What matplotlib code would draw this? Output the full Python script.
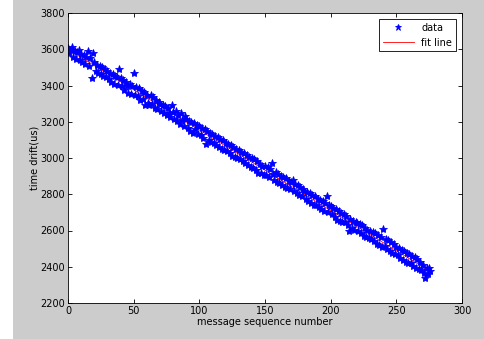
import numpy as np
import matplotlib.pyplot as plt
from matplotlib.patches import Rectangle

# drift values, one per message (x = 0..276)
drift = [
    3605, 3580, 3598, 3612, 3560, 3590, 3548, 3585, 3595, 3540,
    3575, 3530, 3568, 3520, 3555, 3590, 3505, 3550, 3440, 3578,
    3530, 3480, 3515, 3470, 3505, 3462, 3500, 3455, 3490, 3445,
    3480, 3438, 3470, 3420, 3462, 3410, 3455, 3448, 3405, 3490,
    3440, 3395, 3430, 3375, 3418, 3400, 3360, 3410, 3352, 3395,
    3470, 3350, 3390, 3340, 3385, 3318, 3372, 3325, 3365, 3290,
    3350, 3305, 3290, 3345, 3300, 3335, 3278, 3322, 3270, 3310,
    3300, 3262, 3295, 3248, 3285, 3235, 3278, 3250, 3228, 3290,
    3255, 3215, 3262, 3205, 3240, 3190, 3248, 3212, 3178, 3230,
    3215, 3165, 3205, 3150, 3198, 3140, 3192, 3158, 3180, 3135,
    3175, 3125, 3168, 3112, 3160, 3080, 3150, 3098, 3140, 3090,
    3130, 3085, 3122, 3070, 3115, 3062, 3105, 3050, 3098, 3045,
    3085, 3040, 3078, 3025, 3070, 3010, 3062, 3005, 3052, 3000,
    3045, 2995, 3035, 2982, 3028, 2970, 3015, 2960, 3008, 2952,
    3000, 2945, 2992, 2935, 2985, 2915, 2965, 2918, 2958, 2905,
    2955, 2905, 2948, 2895, 2940, 2970, 2910, 2878, 2925, 2870,
    2910, 2862, 2902, 2850, 2895, 2842, 2888, 2835, 2875, 2830,
    2865, 2880, 2818, 2858, 2805, 2850, 2795, 2840, 2788, 2830,
    2820, 2775, 2812, 2762, 2805, 2750, 2798, 2742, 2788, 2738,
    2775, 2732, 2770, 2720, 2765, 2705, 2752, 2790, 2700, 2740,
    2735, 2690, 2725, 2675, 2718, 2660, 2705, 2655, 2695, 2645,
    2690, 2645, 2680, 2630, 2595, 2662, 2612, 2655, 2605, 2645,
    2640, 2598, 2635, 2585, 2628, 2570, 2615, 2562, 2605, 2558,
    2600, 2555, 2592, 2540, 2585, 2528, 2575, 2520, 2565, 2510,
    2610, 2515, 2555, 2500, 2548, 2485, 2535, 2478, 2525, 2470,
    2510, 2465, 2502, 2450, 2495, 2440, 2485, 2428, 2475, 2420,
    2470, 2418, 2462, 2405, 2455, 2395, 2445, 2388, 2425, 2380,
    2410, 2365, 2340, 2395, 2360, 2392, 2378,
]
seq = np.arange(len(drift))

xticks = [0, 50, 100, 150, 200, 250, 300]
yticks = [2200, 2400, 2600, 2800, 3000, 3200, 3400, 3600, 3800]

fig = plt.figure(figsize=(4.85, 3.39), dpi=100, facecolor='#cccccc')
# white strip on the left edge of the screenshot
fig.patches.append(Rectangle((0, 0), 13 / 485, 1, transform=fig.transFigure,
                             facecolor='white', edgecolor='none', zorder=-1))
ax = fig.add_axes([68 / 485, 1 - 303 / 339, 394 / 485, 290 / 339])

# least squares line (hidden under the points, as in the original)
fit = np.poly1d(np.polyfit(seq, drift, 1))
ax.plot(seq, fit(seq), color='red', lw=0.6, label='fit line', zorder=1)
ax.plot(seq, drift, '*', color='#0000ff', ms=6, mew=0.6,
        label='data', zorder=2)

ax.set_xlim(0, 300)
ax.set_ylim(2200, 3800)
ax.set_xticks(xticks)
ax.set_yticks(yticks)
ax.tick_params(direction='in', top=True, right=True, labelsize=7, length=3,
               width=0.6, pad=2)
for s in ax.spines.values():
    s.set_linewidth(0.6)

ax.set_xlabel('message sequence number', fontsize=7, labelpad=1)
ax.set_ylabel('time drift(us)', fontsize=7, labelpad=1)

h, l = ax.get_legend_handles_labels()
leg = ax.legend(h[::-1], l[::-1], loc='upper right', fontsize=7,
                fancybox=False, edgecolor='black', framealpha=1,
                handlelength=3.2, borderaxespad=0.6, markerscale=0.8)
leg.get_frame().set_linewidth(0.6)

fig.savefig('out.png', dpi=100, facecolor=fig.get_facecolor())
